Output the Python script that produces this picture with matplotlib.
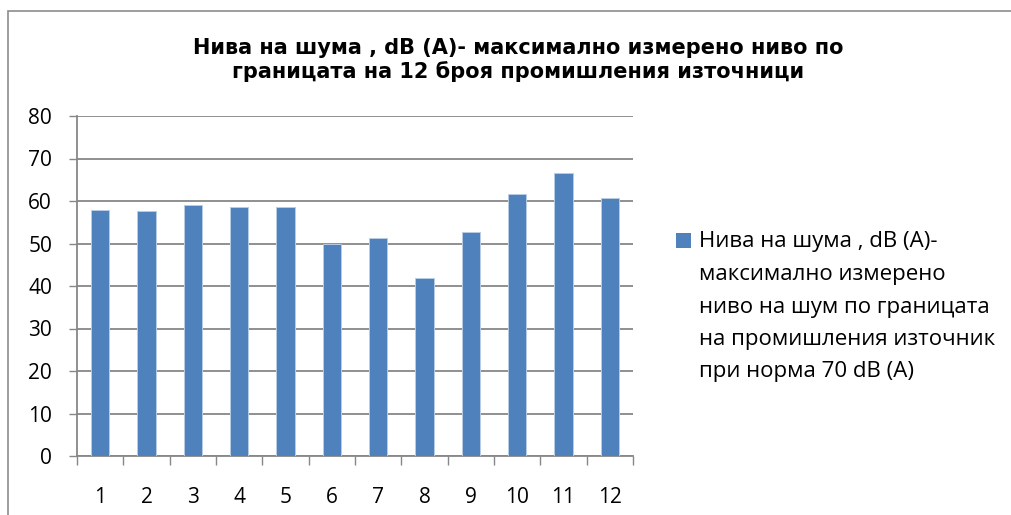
import matplotlib
matplotlib.use("Agg")
import matplotlib.pyplot as plt
from matplotlib.patches import Rectangle

categories = ["1", "2", "3", "4", "5", "6", "7", "8", "9", "10", "11", "12"]
values = [57.8, 57.6, 59.1, 58.6, 58.6, 50.0, 51.3, 41.8, 52.8, 61.6, 66.7, 60.7]
yticks = [0, 10, 20, 30, 40, 50, 60, 70, 80]
title = "Нива на шума , dB (A)- максимално измерено ниво по\nграницата на 12 броя промишления източници"
series_label = ("Нива на шума , dB (A)-\nмаксимално измерено\nниво на шум по границата\n"
                "на промишления източник\nпри норма 70 dB (A)")

W, H = 1012, 515
plt.rcParams['font.family'] = ['Open Sans', 'DejaVu Sans']
fig = plt.figure(figsize=(W / 100, H / 100), dpi=100)

def fx(px):
    return px / W

def fy(py):
    return 1 - py / H

# outer chart border
fig.patches.append(Rectangle((fx(8), fy(530)), fx(1020 - 8), (530 - 11) / H,
                             transform=fig.transFigure, fill=False,
                             edgecolor='#8c8c8c', linewidth=1.2))

ax = fig.add_axes([fx(77), fy(456), fx(633) - fx(77), (456 - 116) / H])
x = list(range(1, len(values) + 1))
ax.bar(x, values, width=0.4, color='#4f81bd', edgecolor='#b8cce4', linewidth=0.7, zorder=3)

ax.set_xlim(0.5, len(values) + 0.5)
ax.set_ylim(0, 80)
ax.set_yticks(yticks)
ax.set_yticklabels([str(v) for v in yticks])
ax.yaxis.grid(True, color='#878787', linewidth=1.3, zorder=0)
ax.set_axisbelow(True)

ax.set_xticks([i + 0.5 for i in range(0, len(values) + 1)])
ax.set_xticklabels([])
ax.set_xticks(x, minor=True)
ax.set_xticklabels(categories, minor=True)
ax.tick_params(axis='x', which='major', length=6.5, width=1.0, color='#878787', direction='out')
ax.tick_params(axis='x', which='minor', length=0, pad=22, labelsize=15)
ax.tick_params(axis='y', length=6, width=1.0, color='#878787', direction='out', pad=12, labelsize=15)

for s in ['top', 'right']:
    ax.spines[s].set_visible(False)
for s in ['left', 'bottom']:
    ax.spines[s].set_color('#878787')
    ax.spines[s].set_linewidth(1.3)

fig.text(fx(518), fy(60), title, ha='center', va='center', fontsize=15,
         fontweight='bold', family=['DejaVu Sans'], linespacing=1.2)

# legend
fig.patches.append(Rectangle((fx(676), fy(248)), fx(15), 15 / H, transform=fig.transFigure,
                             facecolor='#4f81bd', edgecolor='none'))
for i, line in enumerate(series_label.split('\n')):
    fig.text(fx(699), fy(242 + i * 32.5), line, ha='left', va='center', fontsize=16)

fig.savefig('out.png', dpi=100)
